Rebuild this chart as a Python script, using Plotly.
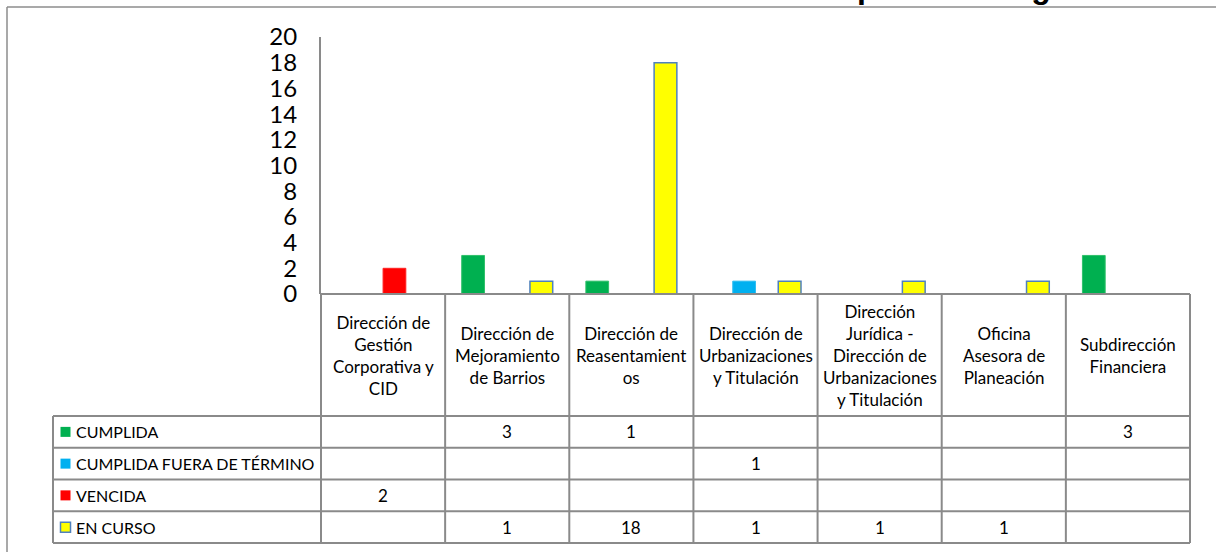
import plotly.graph_objects as go

# ---------------- data ----------------
categories = [
    "Dirección de Gestión Corporativa y CID",
    "Dirección de Mejoramiento de Barrios",
    "Dirección de Reasentamientos",
    "Dirección de Urbanizaciones y Titulación",
    "Dirección Jurídica - Dirección de Urbanizaciones y Titulación",
    "Oficina Asesora de Planeación",
    "Subdirección Financiera",
]
category_labels = [
    "Dirección de<br>Gestión<br>Corporativa y<br>CID",
    "Dirección de<br>Mejoramiento<br>de Barrios",
    "Dirección de<br>Reasentamient<br>os",
    "Dirección de<br>Urbanizaciones<br>y Titulación",
    "Dirección<br>Jurídica -<br>Dirección de<br>Urbanizaciones<br>y Titulación",
    "Oficina<br>Asesora de<br>Planeación",
    "Subdirección<br>Financiera",
]
series_names = ["CUMPLIDA", "CUMPLIDA FUERA DE TÉRMINO", "VENCIDA", "EN CURSO"]
cumplida = [None, 3, 1, None, None, None, 3]
cumplida_fuera = [None, None, None, 1, None, None, None]
vencida = [2, None, None, None, None, None, None]
en_curso = [None, 1, 18, 1, 1, 1, None]
y_ticks = [0, 2, 4, 6, 8, 10, 12, 14, 16, 18, 20]
title_text = "Ilustración 4. Resumen del Estado de Acciones después del seguimiento"

series_values = [cumplida, cumplida_fuera, vencida, en_curso]
colors = ["#00B050", "#00B0F0", "#FF0000", "#FFFF00"]
line_colors = ["#2FC06A", "#30BEF2", "#FF2020", "#4F81BD"]

# ---------------- layout geometry (pixels) ----------------
W, H = 1216, 552
PLOT_L, PLOT_R = 321, 1190      # category area
AX_Y0, AX_Y1 = 294, 37          # bar area bottom / top
TAB_L = 53                      # table left edge
HEAD_B = 416                    # header bottom
TAB_B = 543                     # table bottom
GRID = "#8a8a8a"
FONT = "Lato"

def fx(px):
    return px / W

def fy(py):
    return 1 - py / H

ncat = len(categories)
nser = len(series_names)
cat_w = (PLOT_R - PLOT_L) / ncat            # px per category
row_h = (TAB_B - HEAD_B) / nser             # px per row
legend_units = (PLOT_L - TAB_L) / cat_w     # legend column width in category units
head_units = (HEAD_B - AX_Y0) / row_h       # header height in row units
pad = 4                                     # px padding so edge lines are not clipped

x_lo = -0.5 - legend_units
x_hi = ncat - 0.5
y_top = -0.5 - head_units
y_bot = nser - 0.5

fig = go.Figure()

# bars
for name, vals, c, lc in zip(series_names, series_values, colors, line_colors):
    fig.add_trace(go.Bar(
        x=list(range(ncat)), y=vals, name=name,
        marker=dict(color=c, line=dict(color=lc, width=1.5 if name == "EN CURSO" else 1)),
        xaxis="x", yaxis="y", showlegend=False, hoverinfo="skip",
    ))

# legend keys in the table
key_x = x_lo + (65.5 - TAB_L) / cat_w
for i, (c, lc) in enumerate(zip(colors, line_colors)):
    fig.add_trace(go.Scatter(
        x=[key_x], y=[i], mode="markers", xaxis="x2", yaxis="y2",
        marker=dict(symbol="square", size=10, color=c,
                    line=dict(color=lc if i == 3 else c, width=1.5 if i == 3 else 0)),
        showlegend=False, hoverinfo="skip",
    ))

shapes = []
def tline(x0, y0, x1, y1):
    shapes.append(dict(type="line", xref="x2", yref="y2", x0=x0, y0=y0, x1=x1, y1=y1,
                       line=dict(color=GRID, width=2), layer="above"))

# vertical lines of the table
for k in range(ncat + 1):
    tline(k - 0.5, y_top, k - 0.5, y_bot)
tline(x_lo, -0.5, x_lo, y_bot)
# horizontal lines
tline(-0.5, y_top, x_hi, y_top)
for r in range(nser + 1):
    tline(x_lo, r - 0.5, x_hi, r - 0.5)

# outer chart frame (only top & left visible)
shapes.append(dict(type="line", xref="paper", yref="paper", x0=fx(7), y0=fy(7), x1=fx(1216), y1=fy(7),
                   line=dict(color="#8c8c8c", width=1.5)))
shapes.append(dict(type="line", xref="paper", yref="paper", x0=fx(7), y0=fy(7), x1=fx(7), y1=fy(552),
                   line=dict(color="#8c8c8c", width=1.5)))

annotations = []
# header labels
for i, lab in enumerate(category_labels):
    annotations.append(dict(x=i, y=(y_top + -0.5) / 2, xref="x2", yref="y2", text=lab,
                            showarrow=False, font=dict(family=FONT, size=17, color="#000"),
                            align="center", xanchor="center", yanchor="middle"))
# row labels + values
for r, (name, vals) in enumerate(zip(series_names, series_values)):
    annotations.append(dict(x=x_lo + (74 - TAB_L) / cat_w, y=r, xref="x2", yref="y2", text=name,
                            showarrow=False, font=dict(family=FONT, size=16, color="#000"),
                            xanchor="left", yanchor="middle"))
    for i, v in enumerate(vals):
        if v is not None:
            annotations.append(dict(x=i, y=r, xref="x2", yref="y2", text=str(v),
                                    showarrow=False, font=dict(family=FONT, size=17, color="#000"),
                                    xanchor="center", yanchor="middle"))

pad_x_units = pad / cat_w
pad_y_units = pad / row_h

fig.update_layout(
    width=W, height=H,
    margin=dict(l=0, r=0, t=0, b=0, autoexpand=False),
    paper_bgcolor="white", plot_bgcolor="rgba(0,0,0,0)",
    title=dict(text="<b>" + title_text + "</b>", xref="container", yref="container",
               x=630 / W, xanchor="center", y=1 - 3 / H, yanchor="bottom", automargin=False,
               pad=dict(b=5),
               font=dict(family="Liberation Sans, Arial", size=32, color="#000")),
    barmode="group", bargap=0.267, bargroupgap=0,
    xaxis=dict(domain=[fx(PLOT_L), fx(PLOT_R)], range=[-0.5, ncat - 0.5],
               showticklabels=False, showgrid=False, zeroline=False, showline=False, ticks=""),
    yaxis=dict(domain=[fy(AX_Y0), fy(AX_Y1)], range=[0, 20], tickvals=y_ticks,
               showgrid=False, zeroline=False, showline=True, linecolor=GRID, linewidth=2,
               ticks="", ticklabelstandoff=17,
               tickfont=dict(family=FONT, size=24, color="#000")),
    xaxis2=dict(domain=[fx(TAB_L - pad), fx(PLOT_R + pad)],
                range=[x_lo - pad_x_units, x_hi + pad_x_units],
                visible=False, anchor="y2"),
    yaxis2=dict(domain=[fy(TAB_B + pad), fy(AX_Y0 - pad)],
                range=[y_bot + pad_y_units, y_top - pad_y_units],
                visible=False, anchor="x2"),
    shapes=shapes, annotations=annotations,
)

fig.write_html("out.html")
